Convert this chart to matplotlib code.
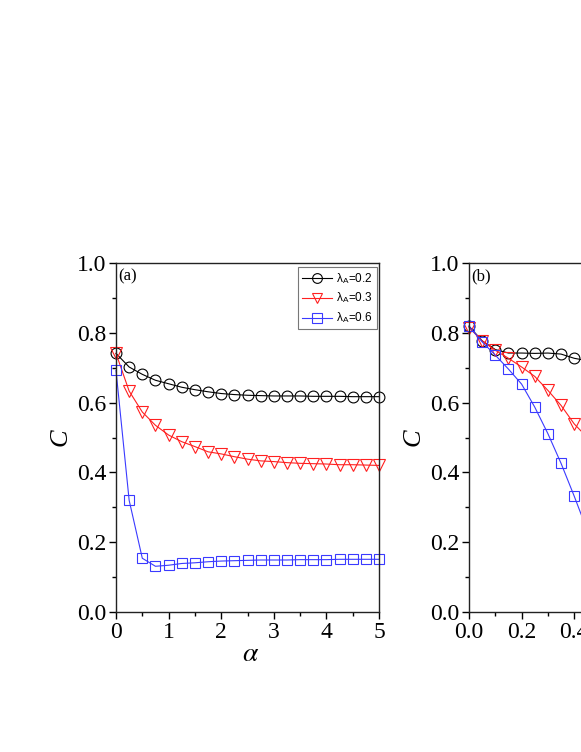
import numpy as np
import matplotlib
matplotlib.use('Agg')
import matplotlib.pyplot as plt
from matplotlib.ticker import MultipleLocator

plt.rcParams['font.family'] = 'serif'
plt.rcParams['font.serif'] = ['Liberation Serif', 'DejaVu Serif']
plt.rcParams['mathtext.fontset'] = 'stix'

# panel (a): C versus alpha
alpha = np.arange(0, 5.01, 0.25)
c_a_02 = [0.741, 0.702, 0.681, 0.664, 0.654, 0.644, 0.637, 0.631, 0.626, 0.623, 0.621,
          0.620, 0.619, 0.619, 0.619, 0.618, 0.618, 0.618, 0.617, 0.617, 0.617]
c_a_03 = [0.741, 0.633, 0.573, 0.535, 0.507, 0.488, 0.474, 0.459, 0.453, 0.445, 0.438,
          0.433, 0.431, 0.428, 0.426, 0.425, 0.424, 0.422, 0.422, 0.421, 0.420]
c_a_06 = [0.692, 0.320, 0.154, 0.131, 0.134, 0.139, 0.141, 0.144, 0.146, 0.147, 0.148,
          0.149, 0.149, 0.149, 0.150, 0.150, 0.150, 0.151, 0.151, 0.151, 0.151]

# panel (b): only the visible part of the series
xb = np.arange(0, 0.451, 0.05)
c_b_02 = [0.819, 0.777, 0.752, 0.742, 0.742, 0.741, 0.742, 0.739, 0.727, 0.720]
c_b_03 = [0.815, 0.777, 0.750, 0.727, 0.702, 0.675, 0.635, 0.592, 0.539, 0.500]
c_b_06 = [0.819, 0.774, 0.736, 0.696, 0.653, 0.587, 0.511, 0.426, 0.332, 0.233]

labels = ['λ$_\\mathregular{A}$=0.2', 'λ$_\\mathregular{A}$=0.3', 'λ$_\\mathregular{A}$=0.6']
colors = ['black', '#FF2020', '#3A3AFF']
markers = ['o', 'v', 's']
msizes = [7.8, 8.6, 7.4]

W, H = 581, 752
fig = plt.figure(figsize=(W / 100, H / 100), dpi=100)
ax1 = fig.add_axes([116 / W, (H - 612) / H, 263 / W, 349 / H])
ax2 = fig.add_axes([469 / W, (H - 612) / H, 263 / W, 349 / H])


def draw(ax, x, series):
    for y, lab, col, mk, ms in zip(series, labels, colors, markers, msizes):
        ax.plot(x, y, color=col, lw=0.8, marker=mk, ms=ms,
                mfc='none', mec=col, mew=0.8, label=lab, clip_on=False)
    ax.set_ylim(0, 1.0)
    ax.yaxis.set_minor_locator(MultipleLocator(0.1))
    ax.set_yticks(np.arange(0, 1.01, 0.2))
    ax.set_yticklabels(['%.1f' % v for v in np.arange(0, 1.01, 0.2)])
    ax.tick_params(which='major', direction='out', length=5, width=1, labelsize=17, pad=2)
    ax.tick_params(which='minor', direction='out', length=3, width=1)
    ax.tick_params(top=False, right=False)
    for s in ax.spines.values():
        s.set_linewidth(1.0)
        s.set_color('#222222')
    ax.set_ylabel('C', fontsize=19, style='italic')
    ax.yaxis.set_label_coords(-0.17, 0.5)


draw(ax1, alpha, [c_a_02, c_a_03, c_a_06])
ax1.set_xlim(0, 5)
ax1.xaxis.set_major_locator(MultipleLocator(1))
ax1.xaxis.set_minor_locator(MultipleLocator(0.5))
ax1.set_xlabel(r'$\alpha$', fontsize=20)
ax1.xaxis.set_label_coords(0.51, -0.085)
ax1.text(0.008, 0.985, '(a)', transform=ax1.transAxes, ha='left', va='top', fontsize=12)
leg = ax1.legend(loc='upper right', bbox_to_anchor=(0.992, 0.9885), borderaxespad=0,
                 fancybox=False, framealpha=1, edgecolor='#777777', handlelength=2.6,
                 handletextpad=0.3, borderpad=0.35, labelspacing=0.45, markerscale=0.9,
                 prop={'family': 'Liberation Sans', 'size': 8.5})
leg.get_frame().set_linewidth(0.8)

draw(ax2, xb, [c_b_02, c_b_03, c_b_06])
ax2.set_xlim(0, 1.0)
ax2.xaxis.set_minor_locator(MultipleLocator(0.1))
ax2.set_xticks(np.arange(0, 1.01, 0.2))
ax2.set_xticklabels(['%.1f' % v for v in np.arange(0, 1.01, 0.2)])
ax2.text(0.008, 0.985, '(b)', transform=ax2.transAxes, ha='left', va='top', fontsize=12)

fig.savefig('out.png', dpi=100)
